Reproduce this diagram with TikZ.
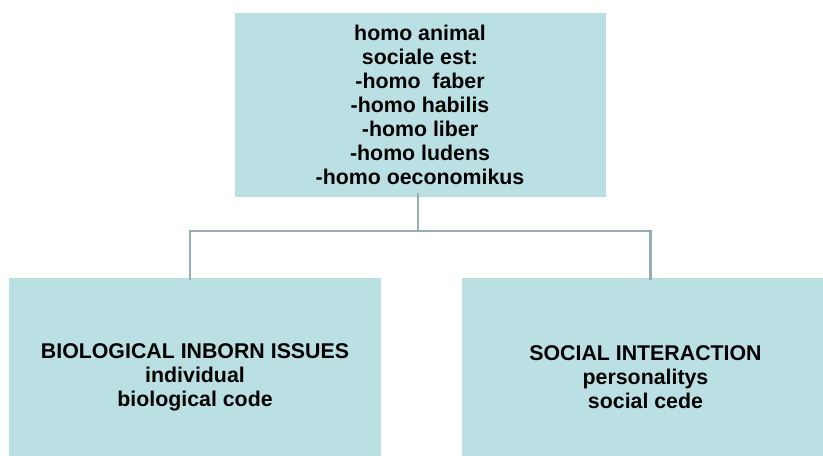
\documentclass[tikz,border=0pt]{standalone}
\usepackage{fontspec}
\setmainfont{Liberation Sans}
\definecolor{boxfill}{HTML}{BBE0E3}
\definecolor{linkcol}{HTML}{93AFB3}
\begin{document}
\begin{tikzpicture}[x=0.75pt,y=0.75pt,yscale=-1,xscale=1,
    termbox/.style={fill=boxfill, draw=none, inner sep=0pt, align=center, font=\fontsize{16}{18}\selectfont\bfseries},
    link/.style={draw=linkcol, line width=1.8pt}]
    \useasboundingbox (0,0) rectangle (823,456);
    \node [termbox, minimum width=278.25pt, minimum height=138pt] (top) at (420,105) {homo animal\\sociale est:\\-homo\ \ faber\\-homo habilis\\-homo liber\\-homo ludens\\-homo oeconomikus};
    \node [termbox, minimum width=279pt, minimum height=148.5pt] (bio) at (195,377) {BIOLOGICAL INBORN ISSUES\\individual\\biological code};
    \node [termbox, minimum width=275.25pt, minimum height=148.5pt] (soc) at (645.5,377) {SOCIAL INTERACTION\\personalitys\\social cede};
    \draw [link] ([xshift=-1.5pt,yshift=-3pt]top.south) -- ++(0,38) coordinate (bus);
    \draw [link] ([xshift=-3.75pt,yshift=2pt]bio.north) |- (bus) -| ([xshift=3.75pt,yshift=2pt]soc.north);
\end{tikzpicture}
\end{document}
